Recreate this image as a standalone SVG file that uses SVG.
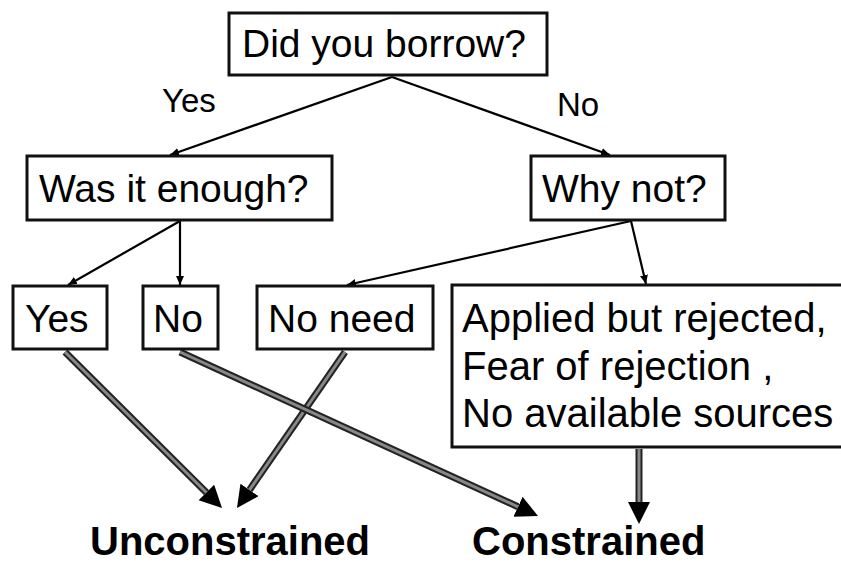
<svg xmlns="http://www.w3.org/2000/svg" width="841" height="563" viewBox="0 0 841 563">
<style>
.box{fill:#fff;stroke:#111;stroke-width:3}
.t{font-family:"Liberation Sans",Arial,sans-serif;font-size:39px;fill:#000}
.t2{font-family:"Liberation Sans",Arial,sans-serif;font-size:40px;fill:#000}
.lbl{font-family:"Liberation Sans",Arial,sans-serif;font-size:33px;fill:#000}
.res{font-family:"Liberation Sans",Arial,sans-serif;font-size:40px;font-weight:bold;fill:#000}
.thin{stroke:#000;stroke-width:2.2;fill:none}
.outer{stroke:#222;stroke-width:7;fill:none}
.inner{stroke:#888;stroke-width:3;fill:none}
</style>
<defs>
<marker id="sa" markerUnits="userSpaceOnUse" markerWidth="10" markerHeight="10" refX="9" refY="4" orient="auto">
<path d="M0,0 L9,4 L0,8 z" fill="#000"/>
</marker>
<marker id="ba" markerUnits="userSpaceOnUse" markerWidth="24" markerHeight="24" refX="0" refY="11" orient="auto">
<path d="M0,0 L22,11 L0,22 z" fill="#000"/>
</marker>
</defs>
<g id="connectors">
<path class="thin" d="M392,77 L170,155" marker-end="url(#sa)"/>
<path class="thin" d="M392,77 L610,155" marker-end="url(#sa)"/>
<path class="thin" d="M180,221 L68,285" marker-end="url(#sa)"/>
<path class="thin" d="M180,221 L180,285" marker-end="url(#sa)"/>
<path class="thin" d="M631,221 L347,285" marker-end="url(#sa)"/>
<path class="thin" d="M631,221 L646,284" marker-end="url(#sa)"/>
<path class="outer" d="M65,352 L206.4,492.5" marker-end="url(#ba)"/>
<path class="inner" d="M65,352 L206.4,492.5"/>
<path class="outer" d="M345,352 L249.5,489.9" marker-end="url(#ba)"/>
<path class="inner" d="M345,352 L249.5,489.9"/>
<path class="outer" d="M180,352 L518,506.8" marker-end="url(#ba)"/>
<path class="inner" d="M180,352 L518,506.8"/>
<path class="outer" d="M639,449 L639,502" marker-end="url(#ba)"/>
<path class="inner" d="M639,449 L639,502"/>
<text class="lbl" x="162" y="112">Yes</text>
<text class="lbl" x="557" y="116">No</text>
</g>
<g id="n-borrow">
<rect class="box" x="229" y="13" width="318" height="62"/>
<text class="t" x="242" y="57">Did you borrow?</text>
</g>
<g id="n-enough">
<rect class="box" x="27" y="156" width="305" height="64"/>
<text class="t" x="39" y="202">Was it enough?</text>
</g>
<g id="n-whynot">
<rect class="box" x="531" y="156" width="194" height="64"/>
<text class="t" x="542" y="202">Why not?</text>
</g>
<g id="n-yes">
<rect class="box" x="13" y="286" width="94" height="63"/>
<text class="t" x="25" y="332">Yes</text>
</g>
<g id="n-no">
<rect class="box" x="143" y="286" width="75" height="63"/>
<text class="t" x="153" y="332">No</text>
</g>
<g id="n-noneed">
<rect class="box" x="257" y="286" width="176" height="63"/>
<text class="t" x="268" y="332">No need</text>
</g>
<g id="n-applied">
<rect class="box" x="452" y="285" width="400" height="162"/>
<text class="t2" x="462" y="332">Applied but rejected,</text>
<text class="t2" x="462" y="380">Fear of rejection ,</text>
<text class="t2" x="462" y="427">No available sources</text>
</g>
<g id="n-unconstrained">
<text class="res" x="90" y="555">Unconstrained</text>
</g>
<g id="n-constrained">
<text class="res" x="472" y="555">Constrained</text>
</g>
</svg>
